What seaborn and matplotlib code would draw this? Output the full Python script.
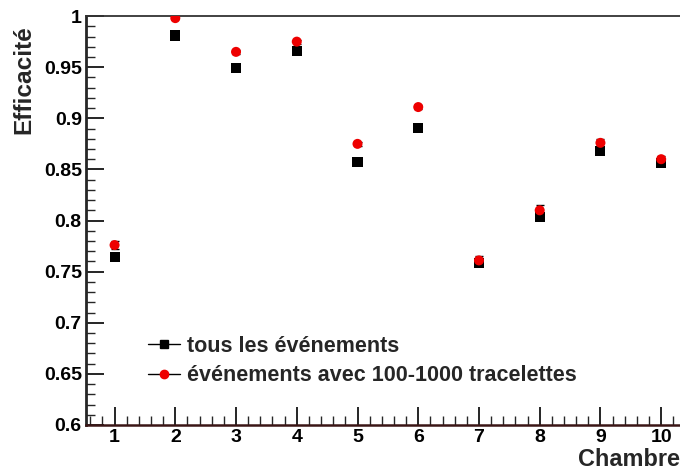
import numpy as np
import pandas as pd
import matplotlib
matplotlib.use("Agg")
import matplotlib.pyplot as plt
from matplotlib.lines import Line2D
from matplotlib.ticker import MultipleLocator, FixedLocator
import seaborn as sns

chambres = [1, 2, 3, 4, 5, 6, 7, 8, 9, 10]
eff_tous = [0.764, 0.981, 0.949, 0.966, 0.857, 0.891, 0.758, 0.803, 0.868, 0.856]
err_tous = [0.002, 0.001, 0.001, 0.001, 0.002, 0.002, 0.002, 0.003, 0.002, 0.002]
eff_sel = [0.776, 0.998, 0.965, 0.975, 0.875, 0.911, 0.761, 0.810, 0.876, 0.860]
err_sel = [0.004, 0.001, 0.002, 0.002, 0.002, 0.002, 0.004, 0.005, 0.004, 0.003]
x_ticks = [1, 2, 3, 4, 5, 6, 7, 8, 9, 10]
y_ticks = [0.6, 0.65, 0.7, 0.75, 0.8, 0.85, 0.9, 0.95, 1.0]
y_ticklabels = ["0.6", "0.65", "0.7", "0.75", "0.8", "0.85", "0.9", "0.95", "1"]
lab_tous = "tous les événements"
lab_sel = "événements avec 100-1000 tracelettes"

sns.set_style("ticks")
plt.rcParams['font.family'] = ['Liberation Sans', 'DejaVu Sans']
plt.rcParams['font.weight'] = 'bold'

df = pd.DataFrame({
    "Chambre": chambres * 2,
    "Eff": eff_tous + eff_sel,
    "Err": err_tous + err_sel,
    "Serie": [lab_tous] * len(chambres) + [lab_sel] * len(chambres),
})

fig = plt.figure(figsize=(6.8, 4.73), dpi=100)
ax = fig.add_axes([0.1265, 0.1015, 0.8735, 0.8645])

sub1 = df[df.Serie == lab_tous]
sub2 = df[df.Serie == lab_sel]
ax.errorbar(sub1.Chambre, sub1.Eff, yerr=sub1.Err, fmt='none', ecolor='black', elinewidth=1, capsize=0, zorder=2)
ax.errorbar(sub2.Chambre, sub2.Eff, yerr=sub2.Err, fmt='none', ecolor='black', elinewidth=1, capsize=3, capthick=1, zorder=3)
sns.scatterplot(data=df, x="Chambre", y="Eff", hue="Serie", style="Serie",
                palette={lab_tous: "black", lab_sel: "#ee0000"},
                markers={lab_tous: "s", lab_sel: "o"},
                s=52, linewidth=0, legend=False, ax=ax, zorder=4)
ax.set_xlim(0.53, 10.31)
ax.set_ylim(0.6, 1.0)

ax.xaxis.set_major_locator(FixedLocator(x_ticks))
ax.xaxis.set_minor_locator(MultipleLocator(0.2))
ax.yaxis.set_major_locator(FixedLocator(y_ticks))
ax.set_yticklabels(y_ticklabels)
ax.yaxis.set_minor_locator(MultipleLocator(0.01))
ax.tick_params(axis='both', which='major', direction='in', length=13, width=1.2, labelsize=14, colors='black')
ax.tick_params(axis='both', which='minor', direction='in', length=6.5, width=1.0)
ax.tick_params(axis='x', which='both', pad=3)
ax.tick_params(axis='y', which='both', pad=3)
for lab in ax.get_xticklabels() + ax.get_yticklabels():
    lab.set_fontweight('bold')

for s in ['left', 'top', 'bottom']:
    ax.spines[s].set_visible(True)
ax.spines['right'].set_visible(False)
ax.spines['left'].set_linewidth(2.0)
ax.spines['top'].set_linewidth(1.3)
ax.spines['top'].set_color('#333333')
ax.spines['bottom'].set_linewidth(1.8)
ax.spines['bottom'].set_color('#3a1515')

ax.set_xlabel("Chambre", fontsize=16.9, fontweight='bold', loc='right', labelpad=1)
ax.set_ylabel("Efficacité", fontsize=17.6, fontweight='bold', loc='top')
ax.yaxis.set_label_coords(-0.0859, 0.978)

handles = [
    Line2D([0], [0], color='black', lw=1, marker='s', markersize=6, markerfacecolor='black', markeredgecolor='black'),
    Line2D([0], [0], color='black', lw=1, marker='o', markersize=6, markerfacecolor='#ee0000', markeredgecolor='#ee0000'),
]
leg = ax.legend(handles, [lab_tous, lab_sel], loc='upper left', bbox_to_anchor=(0.09, 0.2396),
                frameon=False, fontsize=15.5, handlelength=1.5, handletextpad=0.33, labelspacing=0.4,
                borderaxespad=0)
for t in leg.get_texts():
    t.set_fontweight('bold')

fig.savefig("out.png", dpi=100)
